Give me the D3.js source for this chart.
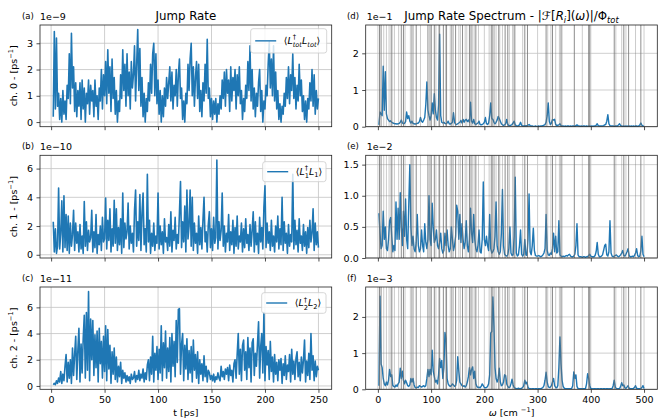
<!DOCTYPE html>
<html>
<head>
<meta charset="utf-8">
<script src="https://cdn.jsdelivr.net/npm/d3@7"></script>
<style>
  body { margin: 0; background: #fff; }
  svg { display: block; }
  text { font-family: "DejaVu Sans", sans-serif; fill: #000; }
</style>
</head>
<body>
<svg id="fig" width="667" height="420"></svg>
<script>
// ---- time axis (ps) ----
const timeStart = 2, timeStep = 1;
const timeTicks = [0, 50, 100, 150, 200, 250];

// jump rates, in units of 10^exponent ps^-1
const rateExponents = [-9, -10, -11];
const rateTot = [
  0.2,3.45,0.5,3.2,0.6,1.1,0.1,0.9,0.0,1.2,
  0.3,0.8,0.1,1.4,0.9,2.6,0.7,3.38,1.3,2.1,
  0.4,1.5,0.2,1.2,0.6,1.5,0.1,1.6,0.5,1.3,
  0.0,1.1,0.7,1.6,0.3,1.4,0.8,1.2,0.2,1.6,
  0.6,1.0,0.1,1.3,0.8,2.0,0.5,1.8,1.0,2.3,
  0.7,2.75,1.1,2.1,0.4,2.4,0.9,1.7,0.3,1.2,
  0.0,0.8,0.4,1.8,0.9,2.75,1.2,2.2,0.6,2.6,
  1.0,1.9,0.5,2.3,1.3,1.8,2.9,0.8,2.2,3.52,
  1.2,2.8,0.6,1.7,0.2,1.1,0.0,0.9,0.4,1.5,
  0.8,2.2,1.1,2.6,3.0,1.0,2.6,0.7,1.6,0.3,
  1.2,0.0,1.0,0.2,1.3,0.6,1.7,0.9,1.5,2.1,
  0.8,1.9,0.5,1.4,1.0,2.0,0.6,1.8,2.4,0.9,
  1.3,0.1,0.8,0.0,1.1,0.7,2.2,1.2,2.4,3.0,
  1.0,2.1,0.6,1.7,2.3,0.9,2.2,0.4,1.2,0.2,
  1.5,0.8,2.2,1.1,3.15,0.9,1.3,0.2,0.9,0.1,
  0.8,0.3,0.9,0.0,0.7,0.3,1.0,0.5,1.6,0.9,
  1.9,0.6,2.0,1.1,1.6,0.4,2.1,0.8,1.7,1.2,
  2.0,0.5,1.8,1.0,2.1,0.7,1.2,0.1,0.9,0.4,
  1.4,0.9,2.3,1.2,2.9,0.8,2.0,0.5,1.3,0.2,
  1.1,0.6,1.5,2.0,0.4,1.2,0.0,0.8,0.5,1.4,
  1.0,2.2,3.06,1.3,2.4,1.0,2.9,0.8,1.9,0.5,
  1.2,0.1,0.7,0.0,0.6,0.3,1.1,0.6,1.7,0.9,
  2.1,0.7,1.8,1.2,2.6,0.9,1.7,0.5,1.4,0.8,
  2.2,1.0,1.6,0.4,1.0,0.1,0.8,0.0,0.9,0.5,
  1.5,0.8,2.0,0.6,1.8,0.3,1.2,0.5,0.9
];
const rateCh1 = [
  2.3,0.2,1.8,0.1,0.6,4.65,0.4,1.5,3.75,0.2,
  4.1,0.5,2.8,0.3,2.7,0.1,2.2,0.6,1.4,3.1,
  0.3,2.2,0.8,1.6,0.2,2.1,0.4,1.3,0.1,3.7,
  0.6,2.3,0.3,1.7,0.9,1.2,3.1,0.2,1.6,0.5,
  2.8,0.1,1.4,0.7,2.0,0.3,2.6,0.9,1.1,3.95,
  0.4,2.4,1.0,3.2,0.2,1.8,0.6,3.8,0.8,3.2,
  0.3,1.9,0.7,2.5,0.1,4.3,0.5,2.2,1.1,1.6,
  3.6,0.4,2.0,0.8,1.5,0.2,3.1,4.5,0.6,2.3,
  1.0,4.2,0.3,2.9,4.3,0.7,1.8,0.2,5.6,0.9,
  2.4,0.1,1.5,0.6,2.2,0.3,1.3,0.8,4.3,0.4,
  2.0,0.7,1.6,0.1,2.5,0.9,1.2,0.3,2.1,0.6,
  3.0,0.2,1.7,1.0,2.6,0.4,1.4,0.8,2.9,5.1,
  0.5,2.3,0.9,3.4,0.2,4.5,1.1,2.0,4.5,0.6,
  4.0,0.3,2.2,0.8,1.5,0.1,2.7,0.7,1.9,0.4,
  2.4,4.0,0.9,1.6,0.2,2.1,3.0,0.5,1.8,0.3,
  2.6,0.8,1.2,6.6,0.4,2.3,1.0,1.7,4.3,0.6,
  2.0,0.2,1.5,0.9,2.8,0.3,1.6,0.7,2.4,0.1,
  1.9,0.6,2.7,0.4,1.3,0.9,2.2,0.2,1.8,0.5,
  2.5,0.8,1.4,0.3,2.1,0.6,1.7,3.0,0.2,2.3,
  0.7,1.5,0.1,2.6,0.9,1.9,0.4,3.3,4.8,0.5,
  2.2,0.8,1.6,0.3,2.4,0.6,1.3,0.2,2.0,0.9,
  2.7,0.4,1.8,0.7,4.0,0.3,2.3,0.8,1.5,0.1,
  2.1,0.6,1.4,0.9,5.6,0.4,2.4,0.7,1.7,0.2,
  2.5,0.8,1.3,0.3,2.1,0.6,1.6,0.1,1.9,0.5,
  2.4,0.9,1.5,3.2,0.3,2.2,0.7,1.6,0.5
];
const rateCh2 = [
  0.1,0.2,0.1,0.4,0.2,0.6,0.3,1.1,0.2,0.9,
  0.4,1.5,2.4,0.3,1.8,0.6,2.0,0.2,2.9,0.8,
  2.4,3.8,0.5,2.7,4.4,0.3,3.2,1.0,3.6,5.4,
  0.6,5.6,1.2,7.2,0.4,5.1,2.0,5.0,0.8,3.9,
  1.4,4.2,0.3,4.4,1.7,3.4,0.6,3.8,1.1,4.6,
  0.4,4.3,1.3,3.1,0.2,2.6,0.9,2.9,0.5,2.2,
  0.3,1.5,0.7,1.8,0.2,1.2,0.6,1.0,0.3,0.8,
  0.4,0.7,0.2,0.9,0.5,0.6,1.1,0.3,0.8,0.5,
  1.2,0.4,0.9,0.6,1.3,0.3,1.0,0.5,1.6,2.0,
  0.4,2.2,0.9,3.8,0.3,2.5,1.2,3.0,0.5,2.8,
  1.0,4.6,0.4,3.3,1.4,4.2,0.6,2.9,1.1,3.7,
  0.3,4.0,1.5,3.4,0.7,5.0,1.8,5.85,5.9,0.9,
  3.2,4.0,0.4,3.1,1.3,3.6,0.5,2.7,1.0,3.0,
  0.3,3.5,1.2,2.4,0.6,2.6,0.2,2.0,0.9,1.7,
  0.4,2.3,0.7,1.5,0.3,1.2,1.0,0.5,0.8,0.4,
  0.9,0.3,0.7,0.5,1.0,0.6,0.4,1.5,0.7,1.1,
  0.5,1.3,0.9,1.4,0.4,1.6,0.8,1.2,0.3,1.7,
  2.0,0.6,2.4,4.0,0.9,2.8,0.4,3.1,3.5,1.2,
  2.6,0.5,3.7,1.4,2.9,0.3,3.3,3.6,0.8,2.5,
  1.5,3.2,4.9,0.6,3.0,4.0,1.0,5.6,0.4,3.0,
  1.6,2.7,0.5,3.4,1.1,2.2,0.3,2.4,0.9,1.8,
  0.4,2.0,1.2,2.1,0.2,1.7,0.8,2.3,0.5,1.6,
  1.1,2.4,0.3,2.8,0.9,1.9,0.5,2.1,2.6,0.7,
  1.8,0.4,2.2,1.0,2.0,3.5,0.3,1.9,0.8,2.5,
  0.5,4.0,1.2,2.3,0.4,1.9,0.7,1.5,1.2
];
const rateTickValues = [[0, 1, 2, 3], [0, 2, 4, 6], [0, 2, 4, 6]];

// ---- frequency axis (cm^-1) ----
const freqStart = 2, freqStep = 2;
const freqTicks = [0, 100, 200, 300, 400, 500];

// normalised spectra, in units of 10^exponent
const specExponents = [-1, -2, -3];
const specTot = [
  0.05,0.40,0.35,0.30,1.65,0.45,1.50,0.35,0.22,0.18,
  0.14,0.16,0.12,0.10,0.09,0.08,0.08,0.07,0.08,0.09,
  0.12,0.18,0.10,0.08,0.09,0.14,0.40,0.22,0.30,0.15,
  0.10,0.15,0.09,0.08,0.07,0.08,0.09,0.10,0.14,0.25,
  0.15,0.12,0.18,0.25,0.60,1.22,0.45,0.30,0.18,0.30,
  0.65,0.35,0.90,0.45,0.25,0.18,0.60,2.52,0.30,0.12,
  0.10,0.12,0.09,0.08,0.10,0.15,0.08,0.07,0.09,0.12,
  0.38,0.12,0.07,0.06,0.08,0.10,0.12,0.17,0.10,0.20,
  0.12,0.18,0.20,0.14,0.18,0.12,0.67,0.15,0.10,0.20,
  0.08,0.06,0.08,0.10,0.15,0.06,0.05,0.06,0.08,0.12,
  0.25,0.08,0.06,0.10,0.30,0.65,0.22,0.20,0.12,0.08,
  0.12,0.18,0.28,0.22,0.15,0.08,0.05,0.04,0.05,0.08,
  0.20,0.06,0.03,0.03,0.04,0.06,0.10,0.15,0.05,0.03,
  0.02,0.03,0.05,0.12,0.04,0.02,0.02,0.03,0.02,0.03,
  0.04,0.06,0.03,0.02,0.02,0.01,0.01,0.02,0.01,0.01,
  0.02,0.01,0.02,0.02,0.03,0.04,0.06,0.12,0.30,0.65,
  0.15,0.06,0.10,0.20,0.18,0.20,0.06,0.03,0.04,0.05,
  0.08,0.03,0.02,0.02,0.01,0.02,0.01,0.02,0.02,0.01,
  0.02,0.01,0.02,0.02,0.01,0.03,0.05,0.03,0.02,0.01,
  0.02,0.01,0.02,0.02,0.01,0.02,0.01,0.02,0.02,0.01,
  0.02,0.01,0.02,0.02,0.04,0.08,0.03,0.02,0.02,0.02,
  0.02,0.03,0.05,0.06,0.15,0.33,0.08,0.03,0.02,0.02,
  0.02,0.01,0.02,0.02,0.02,0.05,0.08,0.03,0.02,0.01,
  0.02,0.01,0.02,0.01,0.02,0.02,0.01,0.02,0.01,0.02,
  0.01,0.02,0.02,0.01,0.02,0.05,0.10,0.04,0.02,0.01
];
const specCh1 = [
  0.72,0.40,0.15,0.20,0.75,0.30,0.50,0.15,0.12,0.30,
  0.60,0.65,0.35,0.10,0.20,0.12,0.90,0.30,0.80,0.30,
  1.05,0.50,0.20,0.75,0.35,0.95,0.30,0.15,0.85,1.50,
  0.50,0.20,0.35,0.15,0.10,0.25,0.70,0.20,0.10,0.15,
  0.45,0.20,0.10,0.55,0.25,0.15,0.30,1.00,0.30,0.20,
  0.88,0.50,0.25,0.30,0.45,0.20,0.15,0.25,0.40,0.15,
  0.08,0.12,0.40,0.20,0.45,0.20,0.10,0.15,0.50,0.30,
  0.12,0.20,0.35,0.85,0.75,0.30,0.70,0.25,0.55,0.30,
  0.15,0.25,0.60,0.20,0.10,0.30,0.80,0.40,0.25,0.70,
  0.30,0.15,0.10,0.20,0.45,0.10,0.08,0.30,1.22,0.30,
  0.20,0.35,0.20,0.12,0.70,0.15,0.08,0.10,0.15,0.35,
  0.90,0.20,0.10,0.06,0.10,0.40,1.10,0.20,0.06,0.04,
  0.03,0.05,0.15,0.50,0.08,0.04,0.05,0.35,1.30,0.08,
  0.03,0.05,0.20,0.45,0.06,0.03,0.06,0.30,0.05,0.04,
  0.30,1.03,0.10,0.05,0.20,0.48,0.12,0.04,0.03,0.03,
  0.04,0.03,0.02,0.03,0.05,0.08,0.15,0.70,0.12,0.05,
  0.04,0.08,0.06,0.15,0.40,0.10,0.35,0.08,0.10,0.60,
  0.05,0.03,0.02,0.03,0.02,0.03,0.04,0.03,0.05,0.06,
  0.03,0.02,0.02,0.03,0.06,0.20,0.55,0.05,0.02,0.02,
  0.02,0.01,0.02,0.02,0.01,0.02,0.02,0.04,0.06,0.03,
  0.02,0.02,0.02,0.04,0.10,0.25,0.06,0.02,0.02,0.03,
  0.05,0.12,0.20,0.22,0.05,0.03,0.10,0.60,0.08,0.03,
  0.02,0.03,0.04,0.05,0.03,0.02,0.03,0.05,0.08,0.12,
  0.04,0.03,0.06,0.10,0.15,0.04,0.02,0.02,0.03,0.02,
  0.04,0.08,0.15,0.04,0.02,0.03,0.12,0.35,0.06,0.02
];
const specCh2 = [
  0.10,2.57,0.70,0.60,0.30,0.15,0.10,0.20,0.12,0.25,
  0.55,0.35,0.40,0.10,0.08,0.06,0.12,0.08,0.15,0.20,
  0.58,0.30,0.50,0.25,0.15,0.25,0.18,0.10,0.08,0.12,
  0.30,0.20,0.30,0.12,0.05,0.04,0.06,0.05,0.10,0.08,
  0.06,0.08,0.10,0.07,0.10,0.30,0.55,0.35,0.55,0.40,
  1.08,0.50,0.35,0.20,0.25,0.15,0.40,0.85,0.60,0.80,
  0.30,0.60,1.57,1.40,0.30,0.15,0.10,0.08,0.10,0.15,
  0.12,0.08,0.10,0.25,0.90,0.50,0.20,0.15,0.10,0.08,
  0.10,0.06,0.10,0.20,0.35,0.60,0.40,0.55,0.62,0.30,
  0.50,0.15,0.08,0.05,0.06,0.04,0.08,0.15,0.10,0.05,
  0.04,0.05,0.08,0.15,0.40,1.55,1.60,2.55,1.75,0.60,
  0.30,0.20,0.30,0.58,0.20,0.10,0.12,0.20,0.40,0.38,
  0.15,0.08,0.05,0.06,0.15,0.28,0.12,0.05,0.03,0.02,
  0.02,0.03,0.02,0.02,0.03,0.05,0.10,0.25,0.15,0.20,
  0.05,0.02,0.02,0.01,0.02,0.02,0.01,0.02,0.02,0.01,
  0.02,0.02,0.02,0.03,0.05,0.10,0.25,0.47,0.20,0.08,
  0.05,0.06,0.10,0.20,0.30,0.10,0.05,0.04,0.10,0.60,
  1.45,0.70,0.25,0.08,0.03,0.02,0.02,0.02,0.02,0.02,
  0.02,0.02,0.10,0.48,0.30,0.40,0.08,0.02,0.02,0.02,
  0.02,0.02,0.02,0.02,0.02,0.15,0.43,0.30,0.10,0.02,
  0.02,0.01,0.02,0.02,0.01,0.02,0.02,0.01,0.02,0.02,
  0.01,0.02,0.02,0.01,0.02,0.02,0.01,0.02,0.02,0.02,
  0.10,0.25,0.06,0.02,0.02,0.02,0.02,0.08,0.18,0.10,
  0.12,0.04,0.03,0.06,0.10,0.03,0.02,0.02,0.02,0.02,
  0.05,0.10,0.03,0.02,0.02,0.02,0.02,0.05,0.10,0.02
];
const specTickValues = [[0, 1, 2], [0, 0.5, 1.0, 1.5], [0, 1, 2]];

// vibrational mode frequencies (cm^-1) and their relative strength
const modeFreqs = [3,6,11,16,21,25,27,31,39,44,48,51,61,64,67,72,80,94,97,100,106,109,114,116,
  123,127,129,136,139,142,146,152,155,159,164,167,172,175,178,181,184,189,209,213,216,219,222,
  227,229,234,239,244,247,253,256,258,272,276,281,316,319,325,328,334,341,344,346,369,384,396,
  398,444,447,458,462,466,471,484,494];
const modeStrength = [1,1,0.45,0.45,0.45,1,0.45,0.45,0.45,1,1,0.45,0.45,1,0.45,1,0.45,1,0.45,1,1,0.45,0.45,1,
  1,0.45,1,0.45,1,0.45,1,0.45,0.45,1,0.45,0.45,1,1,0.45,0.45,1,0.45,0.45,1,1,0.45,0.45,
  1,0.45,0.45,1,1,0.45,0.45,1,0.45,0.45,1,1,1,0.45,0.45,1,0.45,0.45,1,0.45,1,0.45,1,
  1,1,0.45,0.45,1,0.45,1,0.45,1];

const panelLetters = ["(a)", "(b)", "(c)", "(d)", "(e)", "(f)"];
const channelNames = ["0", "1", "2"];

// ---- layout ----
const W = 667, H = 420;
const colX = [{x0: 40, x1: 331.7}, {x0: 365.7, x1: 657.3}];
const rowY = [{y0: 25, y1: 126.7}, {y0: 155.3, y1: 258}, {y0: 287, y1: 389.3}];
const blue = "#1f77b4";
const tickFont = 9.5;

const svg = d3.select("#fig");
svg.append("rect").attr("width", W).attr("height", H).attr("fill", "#fff");
const defs = svg.append("defs");

// text with italic / super- / subscript pieces, mathtext style;
// a "stack" piece sits under the preceding superscript, as in L^†_tot
function mathText(parent, x, y, parts, size, anchor) {
  const t = parent.append("text").attr("x", x).attr("y", y)
    .attr("font-size", size).attr("text-anchor", anchor || "start");
  let cur = 0, lastW = 0;
  parts.forEach((p, k) => {
    const stacked = p.stack || (parts[k + 1] && parts[k + 1].stack);
    const fs = p.pos ? size * 0.7 : size;
    let off = 0;
    if (p.pos === "sup") off = stacked ? -size * 0.5 : -size * 0.42;
    if (p.pos === "sub") off = stacked ? size * 0.34 : size * 0.25;
    const ts = t.append("tspan").attr("font-size", fs).attr("dy", off - cur).text(p.s);
    if (p.it) ts.attr("font-style", "italic");
    if (p.stack) ts.attr("dx", -lastW);
    cur = off;
    lastW = ts.node().getComputedTextLength();
  });
  return t;
}

function extentPad(lo, hi) {
  const r = hi - lo;
  return [lo - 0.05 * r, hi + 0.05 * r];
}

function drawGrid(g, x, y, xTicks, yTicks) {
  const [xa, xb] = x.range(), [ya, yb] = y.range();
  const grid = g.append("g").attr("stroke", "#b0b0b0").attr("stroke-width", 0.8).attr("opacity", 0.75);
  xTicks.forEach(v => grid.append("line").attr("x1", x(v)).attr("x2", x(v)).attr("y1", yb).attr("y2", ya));
  yTicks.forEach(v => grid.append("line").attr("x1", xa).attr("x2", xb).attr("y1", y(v)).attr("y2", y(v)));
}

function drawFrame(g, x, y, xTicks, yTicks, showXLabels, yFmt) {
  const [xa, xb] = x.range(), [ya, yb] = y.range();
  const ax = g.append("g").attr("transform", `translate(0,${ya})`)
    .call(d3.axisBottom(x).tickValues(xTicks).tickSize(3.5).tickPadding(3)
      .tickFormat(showXLabels ? d3.format("d") : () => ""));
  const ay = g.append("g").attr("transform", `translate(${xa},0)`)
    .call(d3.axisLeft(y).tickValues(yTicks).tickSize(3.5).tickPadding(3.5).tickFormat(yFmt));
  [ax, ay].forEach(a => {
    a.select(".domain").remove();
    a.selectAll("line").attr("stroke", "#222").attr("stroke-width", 0.8);
    a.selectAll("text").attr("font-size", tickFont).attr("fill", "#000")
      .attr("font-family", '"DejaVu Sans", sans-serif');
  });
  g.append("rect").attr("x", xa).attr("y", yb).attr("width", xb - xa).attr("height", ya - yb)
    .attr("fill", "none").attr("stroke", "#222").attr("stroke-width", 0.8);
}

function clipFor(id, x, y) {
  const [xa, xb] = x.range(), [ya, yb] = y.range();
  defs.append("clipPath").attr("id", id).append("rect")
    .attr("x", xa).attr("y", yb).attr("width", xb - xa).attr("height", ya - yb);
  return `url(#${id})`;
}

// ---- left column: jump rates vs time ----
const rateSeries = [rateTot, rateCh1, rateCh2];
const timeMax = timeStart + timeStep * (rateTot.length - 1);
const xTime = d3.scaleLinear().domain(extentPad(timeStart, timeMax)).range([colX[0].x0, colX[0].x1]);

const legendParts = [
  [{s: "⟨"}, {s: "L", it: 1}, {s: "†", pos: "sup"}, {s: "tot", it: 1, pos: "sub", stack: 1},
   {s: "L", it: 1}, {s: "tot", it: 1, pos: "sub"}, {s: "⟩"}],
  [{s: "⟨"}, {s: "L", it: 1}, {s: "†", pos: "sup"}, {s: "1", pos: "sub", stack: 1},
   {s: "L", it: 1}, {s: "1", pos: "sub"}, {s: "⟩"}],
  [{s: "⟨"}, {s: "L", it: 1}, {s: "†", pos: "sup"}, {s: "2", pos: "sub", stack: 1},
   {s: "L", it: 1}, {s: "2", pos: "sub"}, {s: "⟩"}]
];
const legendBox = [
  {x: 250.7, y: 28.7, w: 76, h: 24.3},
  {x: 262.7, y: 161.7, w: 63.3, h: 20},
  {x: 261.7, y: 292.7, w: 64.3, h: 20.6}
];

rateSeries.forEach((vals, i) => {
  const r = rowY[i];
  const maxV = d3.max(vals), minV = d3.min(vals);
  const y = d3.scaleLinear().domain(extentPad(minV, maxV)).range([r.y1, r.y0]);
  const g = svg.append("g");
  drawGrid(g, xTime, y, timeTicks, rateTickValues[i]);
  const line = d3.line().x((d, k) => xTime(timeStart + k * timeStep)).y(d => y(d));
  g.append("path").datum(vals).attr("d", line).attr("fill", "none")
    .attr("stroke", blue).attr("stroke-width", 1.6).attr("stroke-linejoin", "round")
    .attr("clip-path", clipFor("clipL" + i, xTime, y));
  drawFrame(g, xTime, y, timeTicks, rateTickValues[i], i === 2, d3.format("d"));

  // legend
  const lb = legendBox[i];
  const lg = g.append("g");
  lg.append("rect").attr("x", lb.x).attr("y", lb.y).attr("width", lb.w).attr("height", lb.h)
    .attr("rx", 2.5).attr("fill", "#fff").attr("fill-opacity", 0.8)
    .attr("stroke", "#cccccc").attr("stroke-width", 0.8);
  const cy = lb.y + lb.h / 2;
  lg.append("line").attr("x1", lb.x + 4.5).attr("x2", lb.x + 25.5).attr("y1", cy).attr("y2", cy)
    .attr("stroke", blue).attr("stroke-width", 1.4);
  mathText(lg, lb.x + 33, cy + 3.3, legendParts[i], 9.5, "start");

  // panel letter, offset text, y label
  svg.append("text").attr("x", 22).attr("y", r.y0 - 6).attr("font-size", 8.5).text(panelLetters[i]);
  svg.append("text").attr("x", colX[0].x0).attr("y", r.y0 - 5).attr("font-size", tickFont)
    .text("1e\u2212" + String(-rateExponents[i]));
  const yl = svg.append("g").attr("transform", `translate(17,${(r.y0 + r.y1) / 2}) rotate(-90)`);
  mathText(yl, 0, 0, [{s: "ch. " + channelNames[i] + " - [ps"}, {s: "\u22121", pos: "sup"}, {s: "]"}], 9.5, "middle");
});

// ---- right column: spectra vs frequency ----
const specSeries = [specTot, specCh1, specCh2];
const freqMax = freqStart + freqStep * (specTot.length - 1);
const xFreq = d3.scaleLinear().domain(extentPad(freqStart, freqMax)).range([colX[1].x0, colX[1].x1]);

specSeries.forEach((vals, i) => {
  const r = rowY[i];
  const y = d3.scaleLinear().domain([0, 1.1 * d3.max(vals)]).range([r.y1, r.y0]);
  const g = svg.append("g");
  drawGrid(g, xFreq, y, freqTicks, specTickValues[i]);
  const clip = clipFor("clipR" + i, xFreq, y);
  const line = d3.line().x((d, k) => xFreq(freqStart + k * freqStep)).y(d => y(d));
  g.append("path").datum(vals).attr("d", line).attr("fill", "none")
    .attr("stroke", blue).attr("stroke-width", 1.4).attr("stroke-linejoin", "round")
    .attr("clip-path", clip);
  // mode frequencies as vertical lines over the spectrum
  const [ya, yb] = y.range();
  g.append("g").attr("clip-path", clip).selectAll("line").data(modeFreqs).join("line")
    .attr("x1", d => xFreq(d)).attr("x2", d => xFreq(d)).attr("y1", ya).attr("y2", yb)
    .attr("stroke", "#707070").attr("stroke-width", 1)
    .attr("stroke-opacity", (d, k) => 0.8 * modeStrength[k]);
  drawFrame(g, xFreq, y, freqTicks, specTickValues[i], i === 2,
    i === 1 ? d3.format(".1f") : d3.format("d"));

  svg.append("text").attr("x", 347).attr("y", r.y0 - 6).attr("font-size", 8.5).text(panelLetters[i + 3]);
  svg.append("text").attr("x", colX[1].x0 + 1).attr("y", r.y0 - 5).attr("font-size", tickFont)
    .text("1e\u2212" + String(-specExponents[i]));
});

// ---- titles and x labels ----
const cxL = (colX[0].x0 + colX[0].x1) / 2, cxR = (colX[1].x0 + colX[1].x1) / 2;
svg.append("text").attr("x", cxL).attr("y", 20).attr("font-size", 11.8)
  .attr("text-anchor", "middle").text("Jump Rate");
mathText(svg, cxR, 20, [
  {s: "Jump Rate Spectrum - |"}, {s: "\u2131"}, {s: "["}, {s: "R", it: 1}, {s: "i", it: 1, pos: "sub"},
  {s: "]("}, {s: "\u03c9", it: 1}, {s: ")|/\u03a6"}, {s: "tot", it: 1, pos: "sub"}
], 11.8, "middle");

svg.append("text").attr("x", cxL).attr("y", 415.5).attr("font-size", 9.5)
  .attr("text-anchor", "middle").text("t [ps]");
mathText(svg, cxR, 415.5, [{s: "\u03c9", it: 1}, {s: " [cm "}, {s: "\u22121", pos: "sup"}, {s: "]"}], 9.5, "middle");
</script>
</body>
</html>
